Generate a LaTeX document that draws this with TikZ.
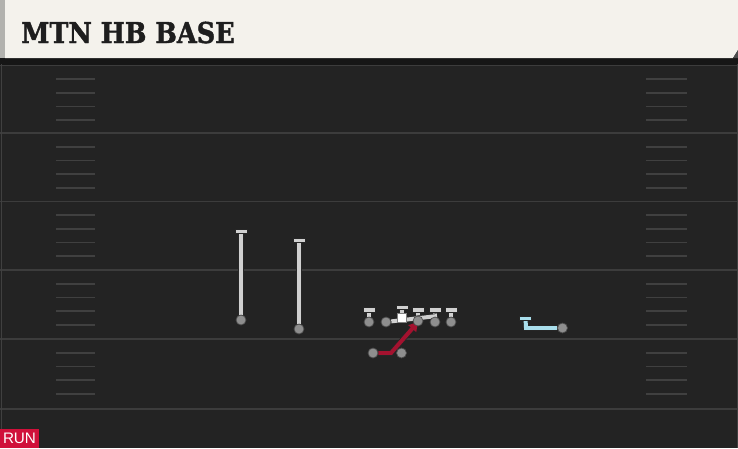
\documentclass[tikz,border=0pt]{standalone}
\usepackage{fontspec}
\newfontfamily\titlefont{DejaVu Serif}[BoldFeatures={FakeBold=1.6}]
\newfontfamily\labelfont{Liberation Sans}
\usetikzlibrary{arrows.meta}
\definecolor{cream}{HTML}{F4F2EC}
\definecolor{stripgray}{HTML}{B2B2AE}
\definecolor{fieldbg}{HTML}{232323}
\definecolor{band}{HTML}{161616}
\definecolor{yardc}{HTML}{3C3C3C}
\definecolor{hashc}{HTML}{404040}
\definecolor{linec}{HTML}{D0D0D0}
\definecolor{dotc}{HTML}{8E8E8E}
\definecolor{runred}{HTML}{A3122F}
\definecolor{wrblue}{HTML}{A9DEEC}
\definecolor{tagred}{HTML}{D0103A}
\definecolor{titlec}{HTML}{1E1E1E}
\pgfdeclarelayer{bg}
\pgfdeclarelayer{lines}
\pgfsetlayers{bg,lines,main}
\tikzset{
  player/.style={circle, inner sep=0pt, minimum size=8.5pt, fill=dotc, draw=black!70, line width=0.6pt},
  centerbox/.style={rectangle, inner sep=0pt, minimum size=8pt, fill=white, draw=black!50, line width=0.4pt},
  tend/.style={rectangle, inner sep=0pt, minimum width=10.5pt, minimum height=3.8pt, fill=#1, draw=black!85, line width=0.6pt},
  tend/.default=linec,
  route/.style={draw=#1, line width=3.4pt, preaction={draw=black!85, line width=4.7pt}},
  route/.default=linec,
  yard/.style={draw=yardc, line width=1.7pt},
  hash/.style={draw=hashc, line width=1.5pt},
}
\begin{document}
\begin{tikzpicture}[x=0.03cm, y=-0.03cm]
\useasboundingbox (0,0) rectangle (738,448);
\begin{pgfonlayer}{bg}
  \fill[fieldbg] (0,0) rectangle (738,448);
  \fill[band] (0,58) rectangle (738,64.5);
  \foreach \yy in {65.5,133,201.5,270,339,408.5} {
    \draw[yard] (0,\yy) -- (738,\yy);
  }
  \foreach \yy in {65.5,133,201.5,270,339} {
    \foreach \oo in {13.7,27.4,41.1,54.8} {
      \draw[hash] (56,\yy+\oo) -- (95,\yy+\oo);
      \draw[hash] (646,\yy+\oo) -- (687,\yy+\oo);
    }
  }
  \draw[draw=black!75!white, line width=0.8pt] (1,64) -- (1,448);
  \draw[draw=black!75!white, line width=0.8pt] (737,64) -- (737,448);
  \fill[cream] (5,0) -- (738,0) -- (738,50) -- (733,58) -- (5,58) -- cycle;
  \fill[stripgray] (0,0) rectangle (5,58);
  \fill[black!70] (738,50) -- (738,58) -- (733,58) -- cycle;
\end{pgfonlayer}
\node[anchor=base west, inner sep=0pt, text=titlec, font=\titlefont\bfseries\fontsize{24.5}{26}\selectfont, xscale=0.89] (title) at (21,43) {MTN HB BASE};
\node[anchor=south west, inner sep=0pt, fill=tagred, minimum width=39*0.03cm, minimum height=19*0.03cm] (tag) at (0,448) {};
\node[text=white, font=\labelfont\fontsize{13}{13}\selectfont, inner sep=0pt] (runlbl) at (19.5,438.5) {RUN};
% receivers left
\node[player] (wra) at (241,320) {};
\node[tend] (wrat) at (241,231.5) {};
\node[player] (wrb) at (299,329) {};
\node[tend] (wrbt) at (299,240.5) {};
% line
\node[player] (lt) at (369,322) {};
\node[tend] (ltt) at (369,310) {};
\node[player] (lg) at (386,322) {};
\coordinate (lgend) at (437,316);
\node[centerbox] (cc) at (402,318) {};
\node[tend] (cct) at (402,307.5) {};
\node[player] (rg) at (418,321) {};
\node[tend] (rgt) at (418,310) {};
\node[player] (rt) at (435,322) {};
\node[tend] (rtt) at (435,310) {};
\node[player] (te) at (451,322) {};
\node[tend] (tet) at (451,310) {};
% backs
\node[player] (rb) at (373,353) {};
\coordinate (rbk) at (391,353);
\coordinate (rbend) at (418,322);
\node[player] (qb) at (401.5,353) {};
% receiver right
\node[player] (wrc) at (562.5,328) {};
\coordinate (wrck) at (526,328);
\node[tend=wrblue] (wrct) at (525.5,318.5) {};
\begin{pgfonlayer}{lines}
  \draw[route] (wra) -- (wrat);
  \draw[route] (wrb) -- (wrbt);
  \draw[route] (lt) -- (ltt);
  \draw[route] (cc) -- (cct);
  \draw[route] (rg) -- (rgt);
  \draw[route] (rt) -- (rtt);
  \draw[route] (te) -- (tet);
  \draw[route] (lg) -- (lgend);
  \draw[route=wrblue, line join=miter] (wrc) -- (wrck) -- (wrct);
  \draw[route=runred, line join=miter, -{Triangle[length=7.5pt,width=8.5pt]}] (rb) -- (rbk) -- (rbend);
\end{pgfonlayer}
\end{tikzpicture}
\end{document}
